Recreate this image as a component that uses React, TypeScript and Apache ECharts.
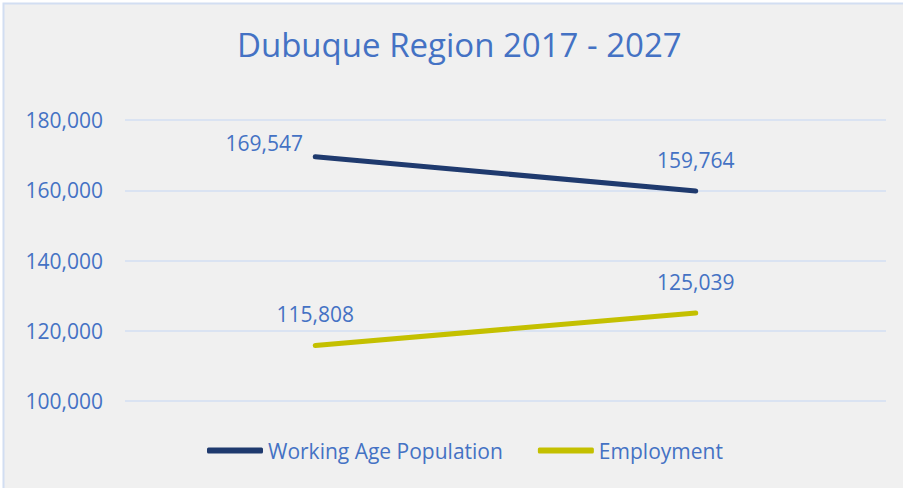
import React, { useEffect, useRef } from "react";
import * as echarts from "echarts";

const categories = ["2017", "2027"];
const workingAge = [169547, 159764];
const employment = [115808, 125039];
const seriesNames = ["Working Age Population", "Employment"];
const titleText = "Dubuque Region 2017 - 2027";

const BLUE = "#4472c4";
const FONT = "'Open Sans', 'Noto Sans', sans-serif";

export default function App() {
  const ref = useRef<HTMLDivElement>(null);
  useEffect(() => {
    if (!ref.current) return;
    const chart = echarts.init(ref.current, null, { renderer: "svg" });
    const fmt = (v: number) => v.toLocaleString("en-US");
    chart.setOption({
      animation: false,
      backgroundColor: "#ffffff",
      textStyle: { fontFamily: FONT },
      graphic: [
        {
          type: "rect",
          z: -10,
          silent: true,
          shape: { x: 3.5, y: 3.5, width: 910, height: 495 },
          style: { fill: "#f0f0f0", stroke: "#d2def2", lineWidth: 2 },
        },
      ],
      title: {
        text: titleText,
        left: 232,
        top: 23,
        textStyle: { color: BLUE, fontFamily: FONT, fontSize: 33, fontWeight: "normal" },
      },
      legend: {
        data: seriesNames.map((n) => ({ name: n, icon: "roundRect" })),
        left: 207,
        top: 440,
        padding: 0,
        itemWidth: 56,
        itemHeight: 6,
        itemGap: 35,
        textStyle: { color: BLUE, fontFamily: FONT, fontSize: 21 },
      },
      grid: { left: 125, right: 17, top: 120, bottom: 87 },
      xAxis: {
        type: "category",
        data: categories,
        boundaryGap: true,
        axisLine: { show: false },
        axisTick: { show: false },
        axisLabel: { show: false },
      },
      yAxis: {
        type: "value",
        min: 100000,
        max: 180000,
        interval: 20000,
        axisLine: { show: false },
        axisTick: { show: false },
        splitLine: { lineStyle: { color: "#d3dff3", width: 1.5 } },
        axisLabel: {
          color: BLUE,
          fontFamily: FONT,
          fontSize: 21,
          margin: 22,
          formatter: (v: number) => fmt(v),
        },
      },
      series: [
        {
          name: seriesNames[0],
          type: "line",
          data: workingAge.map((v, i) =>
            i === 0 ? { value: v, label: { offset: [-51, 17] } } : { value: v }
          ),
          color: "#1f3a6e",
          symbol: "circle",
          symbolSize: 1,
          lineStyle: { width: 5, color: "#1f3a6e", cap: "round" },
          label: {
            show: true,
            position: "top",
            distance: 20,
            color: BLUE,
            fontFamily: FONT,
            fontSize: 21,
            formatter: (p: any) => fmt(p.value),
          },
        },
        {
          name: seriesNames[1],
          type: "line",
          data: employment,
          color: "#c4c000",
          symbol: "circle",
          symbolSize: 1,
          lineStyle: { width: 5, color: "#c4c000", cap: "round" },
          label: {
            show: true,
            position: "top",
            distance: 20,
            color: BLUE,
            fontFamily: FONT,
            fontSize: 21,
            formatter: (p: any) => fmt(p.value),
          },
        },
      ],
    });
    return () => chart.dispose();
  }, []);
  return (
    <div
      ref={ref}
      style={{ position: "fixed", left: 0, top: 0, width: 903, height: 488 }}
    />
  );
}
